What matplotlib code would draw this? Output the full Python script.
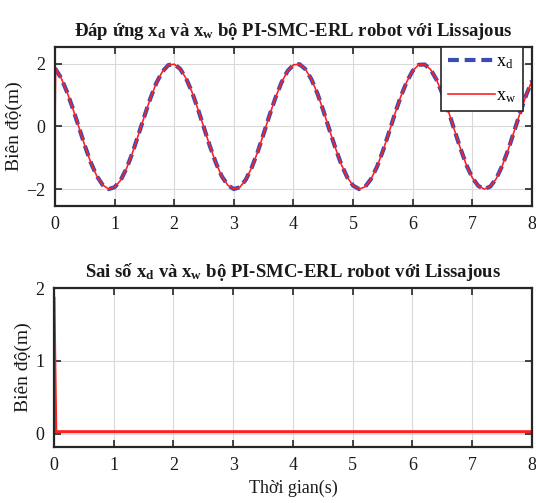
import numpy as np
import matplotlib
matplotlib.use("Agg")
from matplotlib import pyplot as plt

# time grid (s) and desired trajectory x_d
t_d = np.arange(0, 81) / 10.0
x_d = [1.86, 1.56, 1.11, 0.57, -0.02, -0.61, -1.15, -1.58, -1.87, -2.00,
       -1.94, -1.72, -1.34, -0.84, -0.26, 0.33, 0.90, 1.39, 1.75, 1.96,
       1.99, 1.84, 1.53, 1.09, 0.54, -0.05, -0.64, -1.17, -1.60, -1.88,
       -2.00, -1.94, -1.70, -1.31, -0.81, -0.23, 0.37, 0.93, 1.41, 1.77,
       1.97, 1.99, 1.83, 1.51, 1.06, 0.51, -0.09, -0.67, -1.20, -1.62,
       -1.89, -2.00, -1.93, -1.68, -1.29, -0.78, -0.20, 0.40, 0.96, 1.43,
       1.78, 1.97, 1.98, 1.82, 1.49, 1.03, 0.48, -0.12, -0.70, -1.23,
       -1.64, -1.90, -2.00, -1.92, -1.67, -1.26, -0.75, -0.16, 0.43, 0.99,
       1.46]

# x_w starts at 0 and jumps onto x_d almost immediately
t_w_start = [0.0, 0.01]
x_w_start = [0.0, 1.84]

# tracking error x_d - x_w
t_e = [0.0, 0.01, 0.03, 8.0]
err = [1.86, 1.20, 0.03, 0.03]

plt.rcParams["font.family"] = ["Liberation Serif", "DejaVu Serif"]
plt.rcParams["mathtext.fontset"] = "custom"
plt.rcParams["mathtext.rm"] = "Liberation Serif"
plt.rcParams["mathtext.it"] = "Liberation Serif"
plt.rcParams["mathtext.bf"] = "Liberation Serif:bold"

TXT = "#1a1a1a"


def style_axes(ax, yticks, ylim):
    ax.set_xlim(0, 8)
    ax.set_ylim(*ylim)
    ax.set_xticks(range(0, 9))
    ax.set_yticks(yticks)
    ax.grid(True, color="#d9d9d9", lw=0.8)
    ax.set_axisbelow(True)
    ax.tick_params(direction="in", length=5, width=1.2, top=True,
                   right=True, labelsize=13, colors="#262626",
                   labelcolor=TXT, pad=7)
    for s in ax.spines.values():
        s.set_linewidth(1.6)
        s.set_color("#262626")
    ax.set_ylabel("Biên độ(m)", fontsize=14, color=TXT, labelpad=2)


fig = plt.figure(figsize=(5.36, 5.03), dpi=100)

ax1 = fig.add_axes([0.1026, 0.5905, 0.8899, 0.3161])
ax1.plot(t_d, x_d, color="#3a4bb5", lw=3.0, ls=(0, (2.6, 1.4)),
         label=r"$\mathregular{x_d}$")
ax1.plot(t_w_start + list(t_d[1:]), x_w_start + x_d[1:], color="#ff2020",
         lw=1.2, label=r"$\mathregular{x_w}$")
style_axes(ax1, [-2, 0, 2], (-2.54, 2.54))
ax1.set_title(r"Đáp ứng $\mathbf{x_d}$ và $\mathbf{x_w}$ bộ PI-SMC-ERL robot với Lissajous",
              fontsize=13.5, fontweight="bold", color=TXT, pad=8)
leg = ax1.legend(loc="upper right", bbox_to_anchor=(0.981, 1.0),
                 borderaxespad=0, fontsize=13, handlelength=2.6,
                 handletextpad=0.1, labelspacing=0.9, borderpad=0.35,
                 fancybox=False, framealpha=1, edgecolor="#262626")
leg.get_frame().set_linewidth(1.2)

ax2 = fig.add_axes([0.1007, 0.1113, 0.8918, 0.3161])
ax2.plot(t_e, err, color="#ff2020", lw=2.2)
style_axes(ax2, [0, 1, 2], (-0.18, 2.0))
ax2.set_title(r"Sai số $\mathbf{x_d}$ và $\mathbf{x_w}$ bộ PI-SMC-ERL robot với Lissajous",
              fontsize=13.5, fontweight="bold", color=TXT, pad=8)
ax2.set_xlabel("Thời gian(s)", fontsize=13, color=TXT, labelpad=4)

fig.savefig("out.png", dpi=100)
